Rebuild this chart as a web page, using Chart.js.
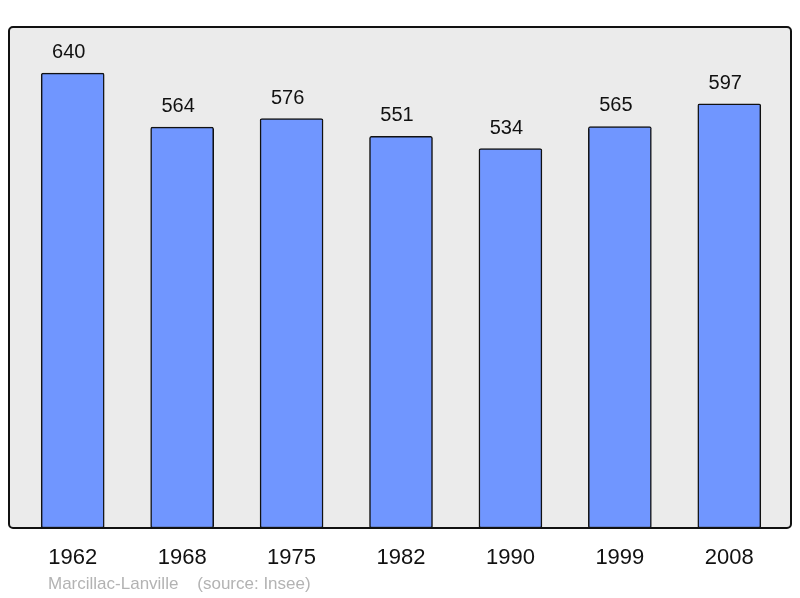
<!DOCTYPE html>
<html>
<head>
<meta charset="utf-8">
<script src="https://cdn.jsdelivr.net/npm/chart.js@4/dist/chart.umd.min.js"></script>
<style>
  html, body { margin: 0; padding: 0; background: #fff; }
  #wrap { width: 800px; height: 598px; position: relative; }
</style>
</head>
<body>
<div id="wrap"><canvas id="popChart" width="800" height="598"></canvas></div>
<script>
// --- DATA ---
const years = ['1962', '1968', '1975', '1982', '1990', '1999', '2008'];
const population = [640, 564, 576, 551, 534, 565, 597];
const sourceText = 'Marcillac-Lanville    (source: Insee)';

const FONT = '"Liberation Sans", Arial, sans-serif';

// gray frame behind the bars, outline on top
const framePlugin = {
    id: 'frame',
    beforeDraw(chart) {
        const ctx = chart.ctx;
        ctx.save();
        ctx.fillStyle = '#ebebeb';
        ctx.beginPath();
        ctx.roundRect(9, 27, 782, 501, 4);
        ctx.fill();
        ctx.restore();
    },
    afterDatasetsDraw(chart) {
        const ctx = chart.ctx;
        ctx.save();
        ctx.strokeStyle = '#111';
        ctx.lineWidth = 2;
        ctx.beginPath();
        ctx.roundRect(9, 27, 782, 501, 4);
        ctx.stroke();

        // value labels
        const meta = chart.getDatasetMeta(0);
        ctx.fillStyle = '#111';
        ctx.font = '20px ' + FONT;
        ctx.textAlign = 'center';
        ctx.textBaseline = 'alphabetic';
        meta.data.forEach((bar, i) => {
            ctx.fillText(String(population[i]), bar.x - 4, bar.y - 15);
        });

        // source line
        ctx.fillStyle = '#b3b3b3';
        ctx.font = '17px ' + FONT;
        ctx.textAlign = 'left';
        ctx.textBaseline = 'middle';
        ctx.fillText(sourceText, 48, 584);
        ctx.restore();
    }
};

const ctx = document.getElementById('popChart').getContext('2d');
new Chart(ctx, {
    type: 'bar',
    data: {
        labels: years,
        datasets: [{
            data: population,
            backgroundColor: '#7096ff',
            borderColor: '#111',
            borderWidth: 1.5,
            borderRadius: 2,
            borderSkipped: false,
            barThickness: 63
        }]
    },
    options: {
        responsive: false,
        animation: false,
        layout: { padding: { top: 27, left: 18, right: 16, bottom: 0 } },
        plugins: { legend: { display: false }, tooltip: { enabled: false } },
        scales: {
            x: {
                grid: { display: false },
                border: { display: false },
                ticks: { color: '#111', font: { size: 22, family: FONT }, padding: 9, maxRotation: 0 },
                afterFit: s => { s.height = 70; }
            },
            y: {
                display: false,
                min: 0,
                max: 705
            }
        }
    },
    plugins: [framePlugin]
});
</script>
</body>
</html>
